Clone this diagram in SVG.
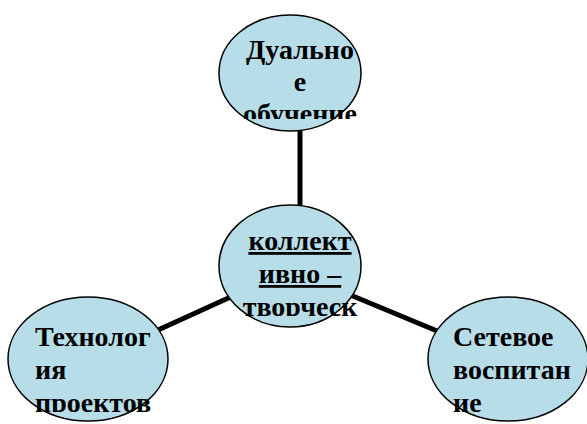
<svg xmlns="http://www.w3.org/2000/svg" width="587" height="424" viewBox="0 0 587 424">
<style>
.n{fill:#B7DEE8;stroke:#000;stroke-width:1.5}
.t{font-family:'Liberation Serif','Times New Roman',serif;font-weight:700;font-size:28px;fill:#000}
.c{stroke:#000;stroke-width:5;fill:none}
</style>
<defs>
<clipPath id="cT"><rect x="200" y="0" width="200" height="119"/></clipPath>
<clipPath id="cC"><rect x="200" y="200" width="200" height="116"/></clipPath>
<clipPath id="cL"><rect x="0" y="290" width="200" height="122"/></clipPath>
<clipPath id="cR"><rect x="420" y="290" width="167" height="122"/></clipPath>
</defs>
<g id="connectors">
<line class="c" x1="300" y1="128" x2="300" y2="208"/>
<line class="c" x1="158" y1="330" x2="235" y2="295"/>
<line class="c" x1="348" y1="294" x2="442" y2="333"/>
</g>
<g id="top">
<ellipse class="n" cx="290" cy="73" rx="71" ry="58"/>
<g clip-path="url(#cT)">
<text class="t" x="300" y="59" text-anchor="middle">Дуально</text>
<text class="t" x="300" y="91" text-anchor="middle">е</text>
<text class="t" x="300" y="123" text-anchor="middle">обучение</text>
</g>
</g>
<g id="center">
<ellipse class="n" cx="290" cy="266" rx="71" ry="61"/>
<g clip-path="url(#cC)">
<text class="t" x="300" y="250" text-anchor="middle" text-decoration="underline">коллект</text>
<text class="t" x="300" y="283" text-anchor="middle" text-decoration="underline">ивно –</text>
<text class="t" x="300" y="316" text-anchor="middle">творческ</text>
</g>
</g>
<g id="left">
<ellipse class="n" cx="88" cy="359" rx="80" ry="62"/>
<g clip-path="url(#cL)">
<text class="t" x="35" y="346">Технолог</text>
<text class="t" x="35" y="379">ия</text>
<text class="t" x="35" y="412">проектов</text>
</g>
</g>
<g id="right">
<ellipse class="n" cx="508" cy="359" rx="80" ry="62"/>
<g clip-path="url(#cR)">
<text class="t" x="453" y="346">Сетевое</text>
<text class="t" x="453" y="379">воспитан</text>
<text class="t" x="453" y="412">ие</text>
</g>
</g>
</svg>
